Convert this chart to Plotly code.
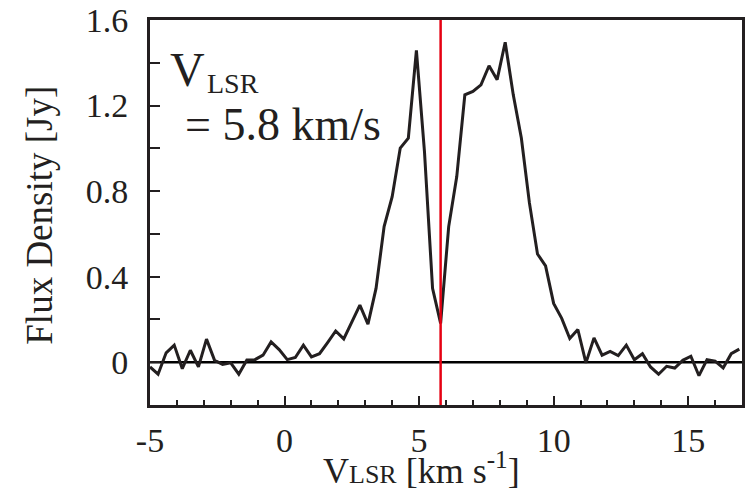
import plotly.graph_objects as go

# Spectrum: LSR velocity (km/s) and flux density (Jy)
velocity = [
    -5.0, -4.7, -4.4, -4.1, -3.8, -3.5, -3.2, -2.9, -2.6, -2.3,
    -2.0, -1.7, -1.4, -1.1, -0.8, -0.5, -0.2, 0.1, 0.4, 0.7,
    1.0, 1.3, 1.6, 1.9, 2.2, 2.5, 2.8, 3.1, 3.4, 3.7,
    4.0, 4.3, 4.6, 4.9, 5.2, 5.5, 5.8, 6.1, 6.4, 6.7,
    7.0, 7.3, 7.6, 7.9, 8.2, 8.5, 8.8, 9.1, 9.4, 9.7,
    10.0, 10.3, 10.6, 10.9, 11.2, 11.5, 11.8, 12.1, 12.4, 12.7,
    13.0, 13.3, 13.6, 13.9, 14.2, 14.5, 14.8, 15.1, 15.4, 15.7,
    16.0, 16.3, 16.6, 16.9,
]
flux = [
    -0.022, -0.056, 0.044, 0.080, -0.030, 0.056, -0.022, 0.108, 0.009, -0.010,
    -0.003, -0.056, 0.010, 0.012, 0.033, 0.095, 0.059, 0.012, 0.022, 0.080,
    0.025, 0.040, 0.092, 0.146, 0.109, 0.188, 0.267, 0.178, 0.345, 0.634,
    0.774, 1.001, 1.048, 1.458, 0.985, 0.346, 0.182, 0.634, 0.868, 1.250,
    1.266, 1.297, 1.386, 1.321, 1.496, 1.250, 1.048, 0.745, 0.506, 0.450,
    0.275, 0.205, 0.111, 0.153, -0.003, 0.114, 0.033, 0.051, 0.031, 0.080,
    0.012, 0.040, -0.022, -0.056, -0.019, -0.027, 0.009, 0.028, -0.063, 0.012,
    0.005, -0.027, 0.040, 0.061,
]

v_lsr = 5.8  # systemic velocity marker

x_ticks = [-5, 0, 5, 10, 15]
x_ticktext = ["-5", "0", "5", "10", "15"]
y_ticks = [0, 0.4, 0.8, 1.2, 1.6]
y_ticktext = ["0", "0.4", "0.8", "1.2", "1.6"]

INK = "#231f20"
RED = "#e60012"
FONT = "Times New Roman, Liberation Serif, serif"

fig = go.Figure()

fig.add_trace(go.Scatter(
    x=velocity, y=flux, mode="lines",
    line=dict(color=INK, width=3),
    showlegend=False, hoverinfo="skip",
))

# zero baseline
fig.add_shape(type="line", xref="x", yref="y", x0=-5, x1=17, y0=0, y1=0,
              line=dict(color="#000000", width=2.5), layer="below")
# systemic velocity line
fig.add_shape(type="line", xref="x", yref="y", x0=v_lsr, x1=v_lsr, y0=-0.2, y1=1.6,
              line=dict(color=RED, width=2.5), layer="above")

fig.update_xaxes(
    range=[-5, 17], showgrid=False, zeroline=False,
    showline=True, mirror=True, linecolor=INK, linewidth=3,
    ticks="inside", ticklen=9, tickwidth=2.2, tickcolor=INK,
    tickvals=x_ticks, ticktext=x_ticktext,
    minor=dict(dtick=1, tick0=0, ticks="inside", ticklen=5, tickwidth=2.2, tickcolor=INK),
    tickfont=dict(family=FONT, size=34, color=INK),
    ticklabelstandoff=3,
)
fig.update_yaxes(
    range=[-0.2, 1.6], showgrid=False, zeroline=False,
    showline=True, mirror=True, linecolor=INK, linewidth=3,
    ticks="inside", ticklen=10, tickwidth=2.2, tickcolor=INK,
    tickvals=y_ticks, ticktext=y_ticktext,
    minor=dict(dtick=0.2, tick0=0, ticks="inside", ticklen=10, tickwidth=2.2, tickcolor=INK),
    tickfont=dict(family=FONT, size=34, color=INK),
    ticklabelstandoff=12,
)

annotations = [
    # y-axis title
    dict(text="Flux Density [Jy]", x=-0.188, y=0.4935, xref="paper", yref="paper",
         textangle=-90, showarrow=False, xanchor="center", yanchor="middle",
         font=dict(family=FONT, size=37, color=INK)),
    # x-axis title
    dict(text="V<span style='font-size:26px'>LSR</span> [km s<sup>-1</sup>]",
         x=0.458, y=-0.166, xref="paper", yref="paper",
         showarrow=False, xanchor="center", yanchor="middle",
         font=dict(family=FONT, size=36, color=INK)),
    # in-plot label
    dict(text="V", x=0.0639, y=0.872, xref="paper", yref="paper",
         showarrow=False, xanchor="center", yanchor="middle",
         font=dict(family=FONT, size=48, color=INK)),
    dict(text="LSR", x=0.141, y=0.836, xref="paper", yref="paper",
         showarrow=False, xanchor="center", yanchor="middle",
         font=dict(family=FONT, size=28, color=INK)),
    dict(text="= 5.8 km/s", x=0.224, y=0.728, xref="paper", yref="paper",
         showarrow=False, xanchor="center", yanchor="middle",
         font=dict(family=FONT, size=46, color=INK)),
]

fig.update_layout(
    width=747, height=494,
    margin=dict(l=150, r=2, t=20, b=89),
    paper_bgcolor="white", plot_bgcolor="white",
    annotations=annotations,
    showlegend=False,
)

fig.write_html("out.html")
